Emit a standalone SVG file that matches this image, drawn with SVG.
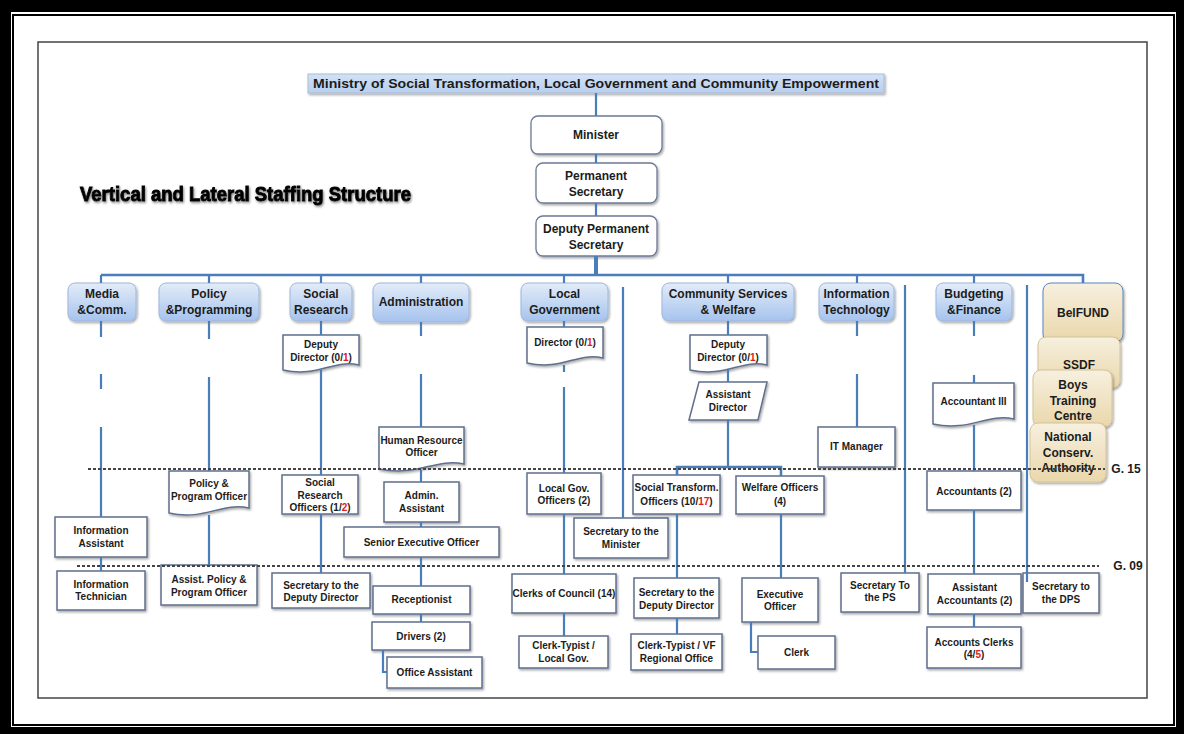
<svg xmlns="http://www.w3.org/2000/svg" width="1184" height="734" viewBox="0 0 1184 734">
<defs>
<linearGradient id="gb" x1="0" y1="0" x2="0" y2="1"><stop offset="0" stop-color="#e3ecf8"/><stop offset="1" stop-color="#a6c3ee"/></linearGradient>
<linearGradient id="gt" x1="0" y1="0" x2="0" y2="1"><stop offset="0" stop-color="#f7f0df"/><stop offset="1" stop-color="#ead7ab"/></linearGradient>
<linearGradient id="gh" x1="0" y1="0" x2="0" y2="1"><stop offset="0" stop-color="#d3e2f5"/><stop offset="1" stop-color="#b9cfee"/></linearGradient>
<filter id="sh" x="-10%" y="-10%" width="130%" height="140%"><feDropShadow dx="1.2" dy="1.6" stdDeviation="1" flood-color="#000" flood-opacity="0.35"/></filter>
<filter id="hs" x="-5%" y="-20%" width="110%" height="150%"><feDropShadow dx="1" dy="1.5" stdDeviation="0.8" flood-color="#555" flood-opacity="0.7"/></filter>
<style>
.ln{fill:none;stroke:#4a7ebb;stroke-width:2.2}
.bx{fill:#fff;stroke:#5f6f8c;stroke-width:1.5;filter:url(#sh)}
.top{fill:#fff;stroke:#6b7b96;stroke-width:1.3;filter:url(#sh)}
.dept{fill:url(#gb);stroke:#9db7dd;stroke-width:1;filter:url(#sh)}
.tan{fill:url(#gt);stroke:#d4c49a;stroke-width:1;filter:url(#sh)}
.t{font-family:"Liberation Sans",Arial,sans-serif;font-weight:bold;font-size:10px;fill:#1c1c1c;text-anchor:middle}
.td{font-size:12px}
.red{fill:#e02020}
.dot{fill:none;stroke:#444;stroke-width:1.8;stroke-dasharray:3 2}
</style>
</defs>

<!-- page frame -->
<rect x="0" y="0" width="1184" height="734" fill="#000"/>
<rect x="11" y="12" width="1165" height="715" fill="#fff"/>
<rect x="13" y="15" width="1161" height="710" fill="none" stroke="#000" stroke-width="2"/>
<rect x="38" y="42" width="1109" height="656" fill="none" stroke="#444" stroke-width="1.5"/>

<text x="80" y="201" textLength="331" lengthAdjust="spacingAndGlyphs" style="font-family:'Liberation Sans',Arial,sans-serif;font-weight:bold;font-size:21px;fill:#000;stroke:#000;stroke-width:1;filter:url(#hs)">Vertical and Lateral Staffing Structure</text>

<g id="title"><rect x="308" y="74" width="576" height="19" fill="url(#gh)" stroke="#a9bdd8" stroke-width="1" filter="url(#sh)"/><text class="t" x="596" y="88" style="font-size:13px" textLength="566" lengthAdjust="spacingAndGlyphs">Ministry of Social Transformation, Local Government and Community Empowerment</text></g>

<g id="minister"><rect class="top" x="531" y="116" width="131" height="38" rx="7"/><text class="t td" x="596" y="139">Minister</text></g>
<g id="ps"><rect class="top" x="536" y="163" width="121" height="40" rx="7"/><text class="t td" x="596" y="180">Permanent</text><text class="t td" x="596" y="196">Secretary</text></g>
<g id="dps"><rect class="top" x="536" y="216" width="121" height="40" rx="7"/><text class="t td" x="596" y="233">Deputy Permanent</text><text class="t td" x="596" y="249">Secretary</text></g>

<!-- departments -->
<g id="media"><rect class="dept" x="68" y="283" width="68" height="38" rx="7"/><text class="t td" x="102" y="298">Media</text><text class="t td" x="102" y="314">&amp;Comm.</text></g>
<g id="policy"><rect class="dept" x="159" y="283" width="100" height="38" rx="7"/><text class="t td" x="209" y="298">Policy</text><text class="t td" x="209" y="314">&amp;Programming</text></g>
<g id="socres"><rect class="dept" x="290" y="283" width="62" height="38" rx="7"/><text class="t td" x="321" y="298">Social</text><text class="t td" x="321" y="314">Research</text></g>
<g id="admin"><rect class="dept" x="373" y="283" width="96" height="39" rx="7"/><text class="t td" x="421" y="306">Administration</text></g>
<g id="localgov"><rect class="dept" x="521" y="283" width="87" height="38" rx="7"/><text class="t td" x="564.5" y="298">Local</text><text class="t td" x="564.5" y="314">Government</text></g>
<g id="community"><rect class="dept" x="662" y="283" width="132" height="38" rx="7"/><text class="t td" x="728" y="298">Community Services</text><text class="t td" x="728" y="314">&amp; Welfare</text></g>
<g id="it"><rect class="dept" x="819" y="283" width="75" height="38" rx="7"/><text class="t td" x="856.5" y="298">Information</text><text class="t td" x="856.5" y="314">Technology</text></g>
<g id="budget"><rect class="dept" x="936" y="283" width="76" height="38" rx="7"/><text class="t td" x="974" y="298">Budgeting</text><text class="t td" x="974" y="314">&amp;Finance</text></g>

<!-- agencies -->
<g id="belfund"><rect class="tan" x="1043" y="283" width="80" height="59" rx="8" style="stroke:#5b86c0"/><text class="t td" x="1083" y="317">BelFUND</text></g>
<g id="ssdf"><rect class="tan" x="1038" y="337" width="82" height="51" rx="8"/><text class="t td" x="1079" y="369">SSDF</text></g>
<g id="boys"><rect class="tan" x="1033" y="370" width="79" height="57" rx="8"/><text class="t td" x="1073" y="389">Boys</text><text class="t td" x="1073" y="405">Training</text><text class="t td" x="1073" y="420">Centre</text></g>
<g id="natcons"><rect class="tan" x="1030" y="423" width="76" height="59" rx="8"/><text class="t td" x="1068" y="441">National</text><text class="t td" x="1068" y="457">Conserv.</text><text class="t td" x="1068" y="472">Authority</text></g>

<!-- second level -->
<g id="sr-dd"><path class="bx" d="M283 335 H359 V365 C333 359 318 378 283 370 Z"/><text class="t" x="321" y="348">Deputy</text><text class="t" x="321" y="361">Director (0/<tspan class="red">1</tspan>)</text></g>
<g id="lg-dir"><path class="bx" d="M527 327 H603 V358 C577 352 562 371 527 363 Z"/><text class="t" x="565" y="346">Director (0/<tspan class="red">1</tspan>)</text></g>
<g id="cs-dd"><path class="bx" d="M690 335 H767 V365 C741 359 726 378 690 370 Z"/><text class="t" x="728" y="348">Deputy</text><text class="t" x="728" y="361">Director (0/<tspan class="red">1</tspan>)</text></g>
<g id="cs-ad"><polygon class="bx" points="699,382 767,382 758,420 689,420"/><text class="t" x="728" y="398">Assistant</text><text class="t" x="728" y="411">Director</text></g>
<g id="hr"><path class="bx" d="M379 427 H464 V464 C435 458 418 477 379 469 Z"/><text class="t" x="421.5" y="443.5">Human Resource</text><text class="t" x="421.5" y="456">Officer</text></g>
<g id="itm"><rect class="bx" x="818" y="427" width="77" height="40"/><text class="t" x="856.5" y="450">IT Manager</text></g>
<g id="acc3"><path class="bx" d="M933 383 H1014 V419 C986 413 970 432 933 424 Z"/><text class="t" x="973.5" y="405">Accountant III</text></g>
<g id="ppo"><path class="bx" d="M169 471 H249 V508 C221 502 205 521 169 513 Z"/><text class="t" x="209" y="487">Policy &amp;</text><text class="t" x="209" y="500">Program Officer</text></g>

<!-- lower nodes -->
<g id="infoasst"><rect class="bx" x="55" y="517" width="92" height="40"/><text class="t" x="101" y="534">Information</text><text class="t" x="101" y="547">Assistant</text></g>
<g id="infotech"><rect class="bx" x="57" y="571" width="88" height="39"/><text class="t" x="101" y="587.5">Information</text><text class="t" x="101" y="600">Technician</text></g>
<g id="appo"><rect class="bx" x="161" y="565" width="96" height="40"/><text class="t" x="209" y="582.5">Assist. Policy &amp;</text><text class="t" x="209" y="595.5">Program Officer</text></g>
<g id="sro"><rect class="bx" x="282" y="475" width="76" height="39"/><text class="t" x="320" y="485.5">Social</text><text class="t" x="320" y="498.5">Research</text><text class="t" x="320" y="510.5">Officers (1/<tspan class="red">2</tspan>)</text></g>
<g id="sr-sec"><rect class="bx" x="272" y="573" width="98" height="35"/><text class="t" x="321" y="588.5">Secretary to the</text><text class="t" x="321" y="601">Deputy Director</text></g>
<g id="adminasst"><rect class="bx" x="384" y="482" width="75" height="40"/><text class="t" x="421.5" y="498.5">Admin.</text><text class="t" x="421.5" y="511.5">Assistant</text></g>
<g id="seo"><rect class="bx" x="344" y="527" width="155" height="30"/><text class="t" x="421.5" y="545.5">Senior Executive Officer</text></g>
<g id="recep"><rect class="bx" x="373" y="586" width="97" height="28"/><text class="t" x="421.5" y="602.5">Receptionist</text></g>
<g id="drivers"><rect class="bx" x="372" y="622" width="98" height="28"/><text class="t" x="421" y="639.5">Drivers (2)</text></g>
<g id="offasst"><rect class="bx" x="387" y="657" width="95" height="31"/><text class="t" x="434.5" y="676">Office Assistant</text></g>
<g id="lgo"><rect class="bx" x="527" y="473" width="74" height="41"/><text class="t" x="564" y="491.5">Local Gov.</text><text class="t" x="564" y="504">Officers (2)</text></g>
<g id="clerkscouncil"><rect class="bx" x="512" y="574" width="104" height="39"/><text class="t" x="564" y="596.5">Clerks of Council (14)</text></g>
<g id="ctlg"><rect class="bx" x="519" y="636" width="89" height="32"/><text class="t" x="563.5" y="648.5">Clerk-Typist /</text><text class="t" x="563.5" y="661.5">Local Gov.</text></g>
<g id="secmin"><rect class="bx" x="574" y="518" width="94" height="40"/><text class="t" x="621" y="535">Secretary to the</text><text class="t" x="621" y="548">Minister</text></g>
<g id="sto"><rect class="bx" x="633" y="475" width="87" height="39"/><text class="t" x="676.5" y="491">Social Transform.</text><text class="t" x="676.5" y="504.5">Officers (10/<tspan class="red">17</tspan>)</text></g>
<g id="welfare"><rect class="bx" x="736" y="476" width="88" height="38"/><text class="t" x="780" y="491">Welfare Officers</text><text class="t" x="780" y="504.5">(4)</text></g>
<g id="cs-sec"><rect class="bx" x="634" y="578" width="85" height="40"/><text class="t" x="676.5" y="596">Secretary to the</text><text class="t" x="676.5" y="608.5">Deputy Director</text></g>
<g id="ctvf"><rect class="bx" x="631" y="634" width="91" height="36"/><text class="t" x="676.5" y="648.5">Clerk-Typist / VF</text><text class="t" x="676.5" y="661.5">Regional Office</text></g>
<g id="exec"><rect class="bx" x="742" y="578" width="76" height="44"/><text class="t" x="780" y="597.5">Executive</text><text class="t" x="780" y="610">Officer</text></g>
<g id="clerk"><rect class="bx" x="758" y="636" width="77" height="33"/><text class="t" x="796.5" y="655.5">Clerk</text></g>
<g id="secps"><rect class="bx" x="841" y="573" width="78" height="39"/><text class="t" x="880" y="588.5">Secretary To</text><text class="t" x="880" y="600.5">the PS</text></g>
<g id="accts"><rect class="bx" x="927" y="471" width="94" height="39"/><text class="t" x="974" y="495">Accountants (2)</text></g>
<g id="asstaccts"><rect class="bx" x="928" y="574" width="93" height="40"/><text class="t" x="974.5" y="591">Assistant</text><text class="t" x="974.5" y="604">Accountants (2)</text></g>
<g id="acclerks"><rect class="bx" x="927" y="627" width="94" height="41"/><text class="t" x="974" y="645.5">Accounts Clerks</text><text class="t" x="974" y="657.5">(4/<tspan class="red">5</tspan>)</text></g>
<g id="secdps"><rect class="bx" x="1023" y="573" width="76" height="40"/><text class="t" x="1061" y="590">Secretary to</text><text class="t" x="1061" y="602.5">the DPS</text></g>

<!-- connectors -->
<g id="connectors">
<path class="ln" d="M596 93 V116 M596 154 V163 M596 203 V216"/>
<path class="ln" style="stroke-width:4" d="M596 256 V275"/>
<path class="ln" style="stroke-width:2.6" d="M101 275 H1083 V283"/>
<path class="ln" d="M101 275 V283 M209 275 V283 M321 275 V283 M421 275 V283 M564 275 V283 M728 275 V283 M857 275 V283 M974 275 V283"/>
<path class="ln" d="M623 287 V518 M905 285 V573 M1027 285 V582"/>
<path class="ln" d="M101 321 V337 M101 374 V389 M101 427 V517 M101 557 V571"/>
<path class="ln" d="M209 321 V339 M209 377 V471 M209 515 V565"/>
<path class="ln" d="M321 321 V335 M321 370 V475 M321 514 V573"/>
<path class="ln" d="M421 322 V336 M421 374 V427 M421 470 V482 M421 522 V527 M421 557 V586 M421 614 V622 M383 650 V672 H387"/>
<path class="ln" d="M564 321 V327 M564 365 V372 M564 387 V473 M564 514 V574 M564 613 V636"/>
<path class="ln" d="M728 321 V335 M728 370 V382 M728 420 V467"/>
<path class="ln" style="stroke-width:2.6" d="M677 475 V467 H781 V476"/>
<path class="ln" d="M677 514 V578 M677 618 V634 M781 514 V578 M751 622 V652 H758"/>
<path class="ln" d="M857 321 V336 M857 374 V427"/>
<path class="ln" d="M974 321 V336 M974 375 V383 M974 425 V471 M974 510 V574 M974 614 V627"/>
</g>

<!-- grade lines -->
<g id="grades">
<path class="dot" d="M88 469 H1105"/>
<text class="t" x="1126" y="473" style="font-size:12px">G. 15</text>
<path class="dot" d="M77 566 H1099"/>
<text class="t" x="1128" y="570" style="font-size:12px">G. 09</text>
</g>
</svg>
